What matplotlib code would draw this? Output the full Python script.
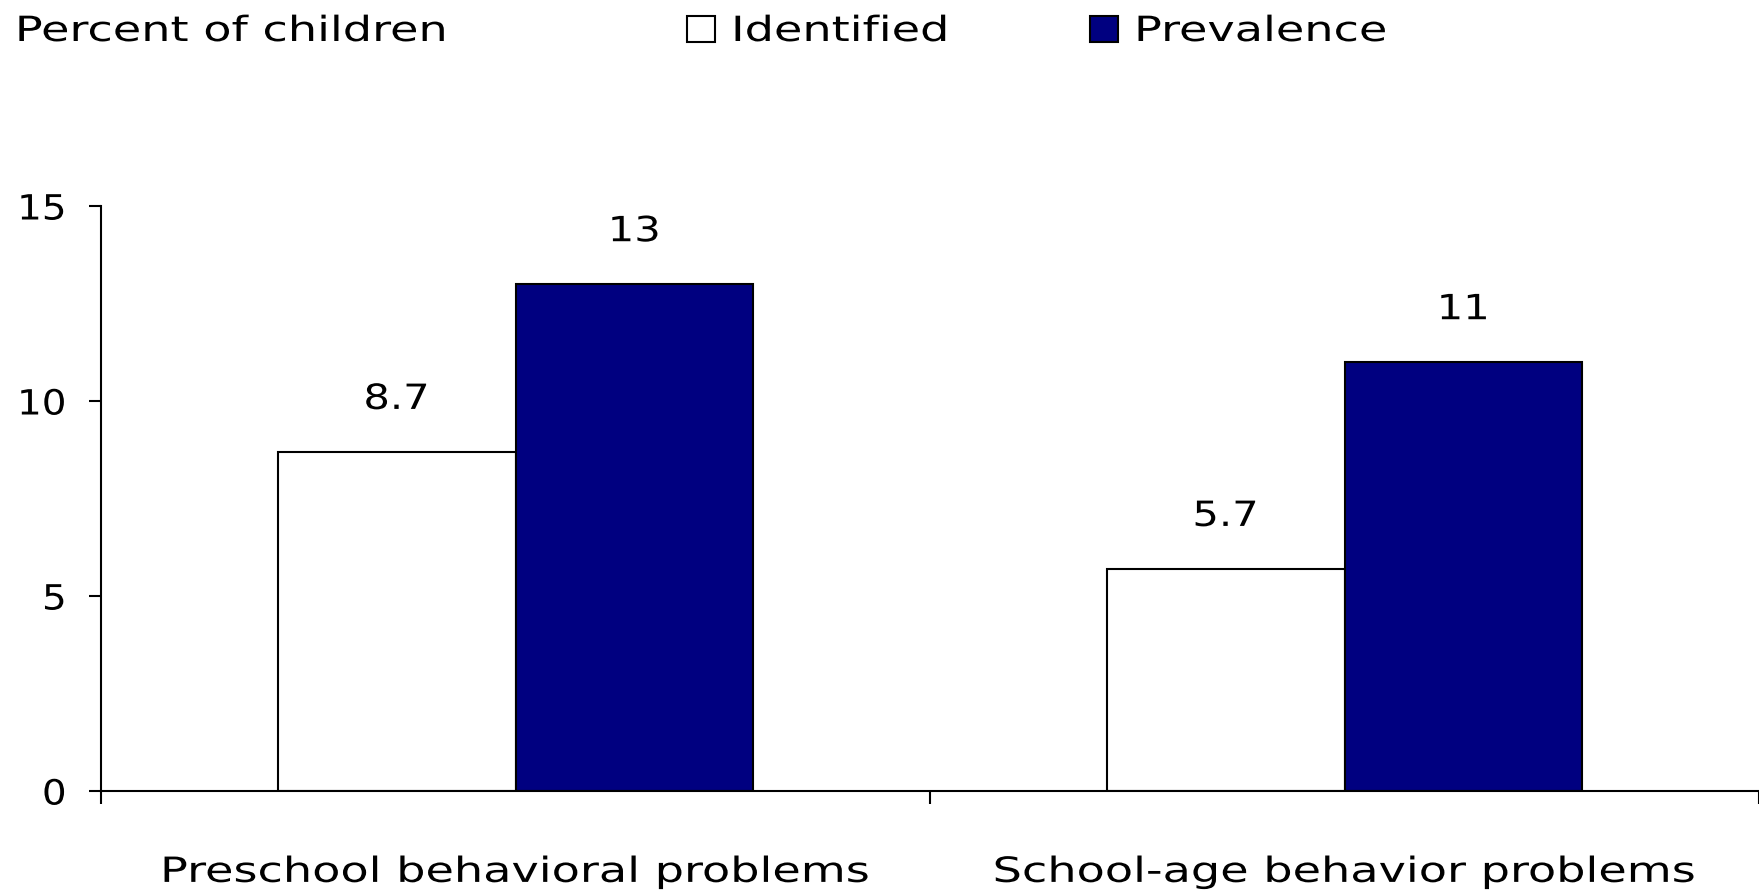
import numpy as np
import matplotlib.pyplot as plt
from matplotlib.patches import Patch
from matplotlib.patheffects import AbstractPathEffect
from matplotlib.transforms import Affine2D

categories = ["Preschool behavioral problems", "School-age behavior problems"]
series_names = ["Identified", "Prevalence"]
identified = [8.7, 5.7]
prevalence = [13, 11]
value_labels_identified = ["8.7", "5.7"]
value_labels_prevalence = ["13", "11"]
y_ticks = [0, 5, 10, 15]


class Stretch(AbstractPathEffect):
    # the original font is a wide one, widen DejaVu horizontally around an anchor
    def __init__(self, sx, anchor='center'):
        super().__init__()
        self.sx = sx
        self.anchor = anchor

    def draw_path(self, renderer, gc, tpath, affine, rgbFace=None):
        ext = tpath.get_extents()
        if self.anchor == 'left':
            cx = ext.x0
        elif self.anchor == 'right':
            cx = ext.x1
        else:
            cx = (ext.x0 + ext.x1) / 2
        t = Affine2D().translate(-cx, 0).scale(self.sx, 1).translate(cx, 0) + affine
        renderer.draw_path(gc, tpath, t, rgbFace)


plt.rcParams['font.family'] = ['DejaVu Sans']
FS = 25
WORD_SX = 1.33

fig = plt.figure(figsize=(17.59, 8.93), dpi=100)
ax = fig.add_axes([101 / 1759, 1 - 791 / 893, 1 - 101 / 1759, (791 - 206) / 893])

x = np.arange(len(categories))
w = 0.287
b1 = ax.bar(x - w / 2, identified, w, color='white', edgecolor='black', linewidth=1.5)
b2 = ax.bar(x + w / 2, prevalence, w, color='#000080', edgecolor='black', linewidth=1.5)

for bars, labels in [(b1, value_labels_identified), (b2, value_labels_prevalence)]:
    for rect, lab in zip(bars, labels):
        ax.annotate(lab, (rect.get_x() + rect.get_width() / 2, rect.get_height()),
                    xytext=(0, 38), textcoords='offset points', ha='center', va='center',
                    fontsize=FS, path_effects=[Stretch(1.2)])

ax.set_xlim(-0.5, len(categories) - 0.5)
ax.set_ylim(0, 15)
ax.set_yticks(y_ticks)
ax.set_yticklabels([str(t) for t in y_ticks], fontsize=FS)
for t in ax.get_yticklabels():
    t.set_path_effects([Stretch(1.12, 'right')])

# category boundaries as major ticks, names on minor ticks
ax.set_xticks(np.arange(len(categories) + 1) - 0.5)
ax.set_xticklabels([])
ax.set_xticks(x, minor=True)
ax.set_xticklabels(categories, minor=True, fontsize=FS)
for t in ax.get_xticklabels(minor=True):
    t.set_path_effects([Stretch(WORD_SX)])
ax.tick_params(axis='x', which='minor', length=0, pad=46)
ax.tick_params(axis='both', which='major', length=9, width=1.5, direction='out')
ax.tick_params(axis='y', pad=16)

for s in ['top', 'right']:
    ax.spines[s].set_visible(False)
ax.spines['left'].set_linewidth(1.5)
ax.spines['bottom'].set_linewidth(1.5)

top_y = 1 - 31 / 893
fig.text(16 / 1759, top_y, "Percent of children", fontsize=FS, ha='left', va='center',
         path_effects=[Stretch(WORD_SX, 'left')])

legend_colors = ['white', '#000080']
legend_x = [687, 1090]
for name, col, lx in zip(series_names, legend_colors, legend_x):
    h = Patch(facecolor=col, edgecolor='black', linewidth=1.5)
    leg = fig.legend([h], [name], loc='center left', bbox_to_anchor=(lx / 1759, top_y),
                     frameon=False, fontsize=FS, handlelength=0.8, handleheight=0.8,
                     handletextpad=0.5, borderpad=0, borderaxespad=0)
    for t in leg.get_texts():
        t.set_path_effects([Stretch(WORD_SX, 'left')])

plt.savefig('out.png')
